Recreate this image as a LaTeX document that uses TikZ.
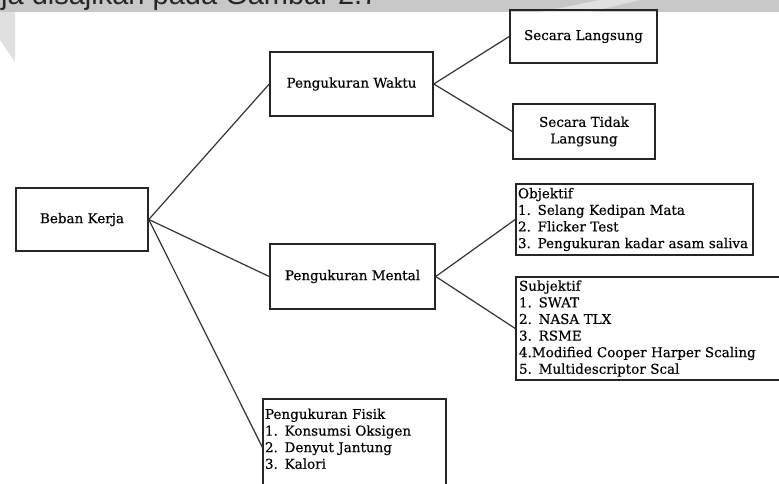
\documentclass[tikz,border=0pt]{standalone}
\usepackage{fontspec}
\setmainfont{DejaVu Serif}[FakeBold=0.35]
\newfontfamily\judulfont{Liberation Sans}
\usetikzlibrary{graphs}

\begin{document}
\begin{tikzpicture}[x=1pt,y=-1pt]
\useasboundingbox (0,0) rectangle (779,483);
\clip (0,0) rectangle (779,483);
% grey page edge above and left of the figure
\fill[black!22] (0,0) rectangle (779,12);
\fill[black!12] (0,12) -- (15,12) -- (15,62) -- (0,40) -- cycle;
\fill[black!12] (540,12) -- (600,0) -- (640,0) -- (590,12) -- cycle;
\begin{scope}
\clip (0,0) rectangle (779,12);
\node[anchor=base west, inner sep=0pt, text=black!85,
      font=\judulfont\fontsize{29}{34}\selectfont] (judul) at (1,4)
      {ja disajikan pada Gambar 2.7};
\end{scope}
\graph [
    nodes={
        rectangle,
        draw=black!85,
        line width=1.5pt,   % frame of each box
        inner sep=0pt,
        font=\fontsize{13.5}{16.6}\selectfont
    },
    edges={
        draw=black!80,
        line width=1.2pt,
        to path={(\tikztostart.east) -- (\tikztotarget.west)}
    },
    no placement
]
{
    beban/"Beban Kerja"[at={(82,219.5)}, minimum width=132pt, minimum height=63pt] -- {
        waktu/"Pengukuran Waktu"[at={(351.5,84)}, minimum width=163pt, minimum height=64pt] -- {
            langsung/"Secara Langsung"[at={(583.5,36.5)}, minimum width=147pt, minimum height=53pt],
            tidak/"Secara Tidak\\Langsung"[at={(584,131.5)}, align=center, minimum width=142pt, minimum height=55pt]
        },
        mental/"Pengukuran Mental"[at={(352.5,276.5)}, minimum width=165pt, minimum height=65pt] -- {
            objektif/"Objektif\\1. Selang Kedipan Mata\\2. Flicker Test\\3. Pengukuran kadar asam saliva"[at={(634.5,219.5)}, align=left, inner xsep=2pt, text width=233pt, minimum height=71pt],
            subjektif/"Subjektif\\1. SWAT\\2. NASA TLX\\3. RSME\\4.Modified Cooper Harper Scaling\\5. Multidescriptor Scal"[at={(658,328.5)}, align=left, inner xsep=3pt, text width=278pt, minimum height=103pt]
        },
        fisik/"Pengukuran Fisik\\1. Konsumsi Oksigen\\2. Denyut Jantung\\3. Kalori\\\mbox{}"[at={(354.5,447)}, align=left, inner xsep=2pt, text width=179pt, minimum height=96pt]
    }
};
\end{tikzpicture}
\end{document}
